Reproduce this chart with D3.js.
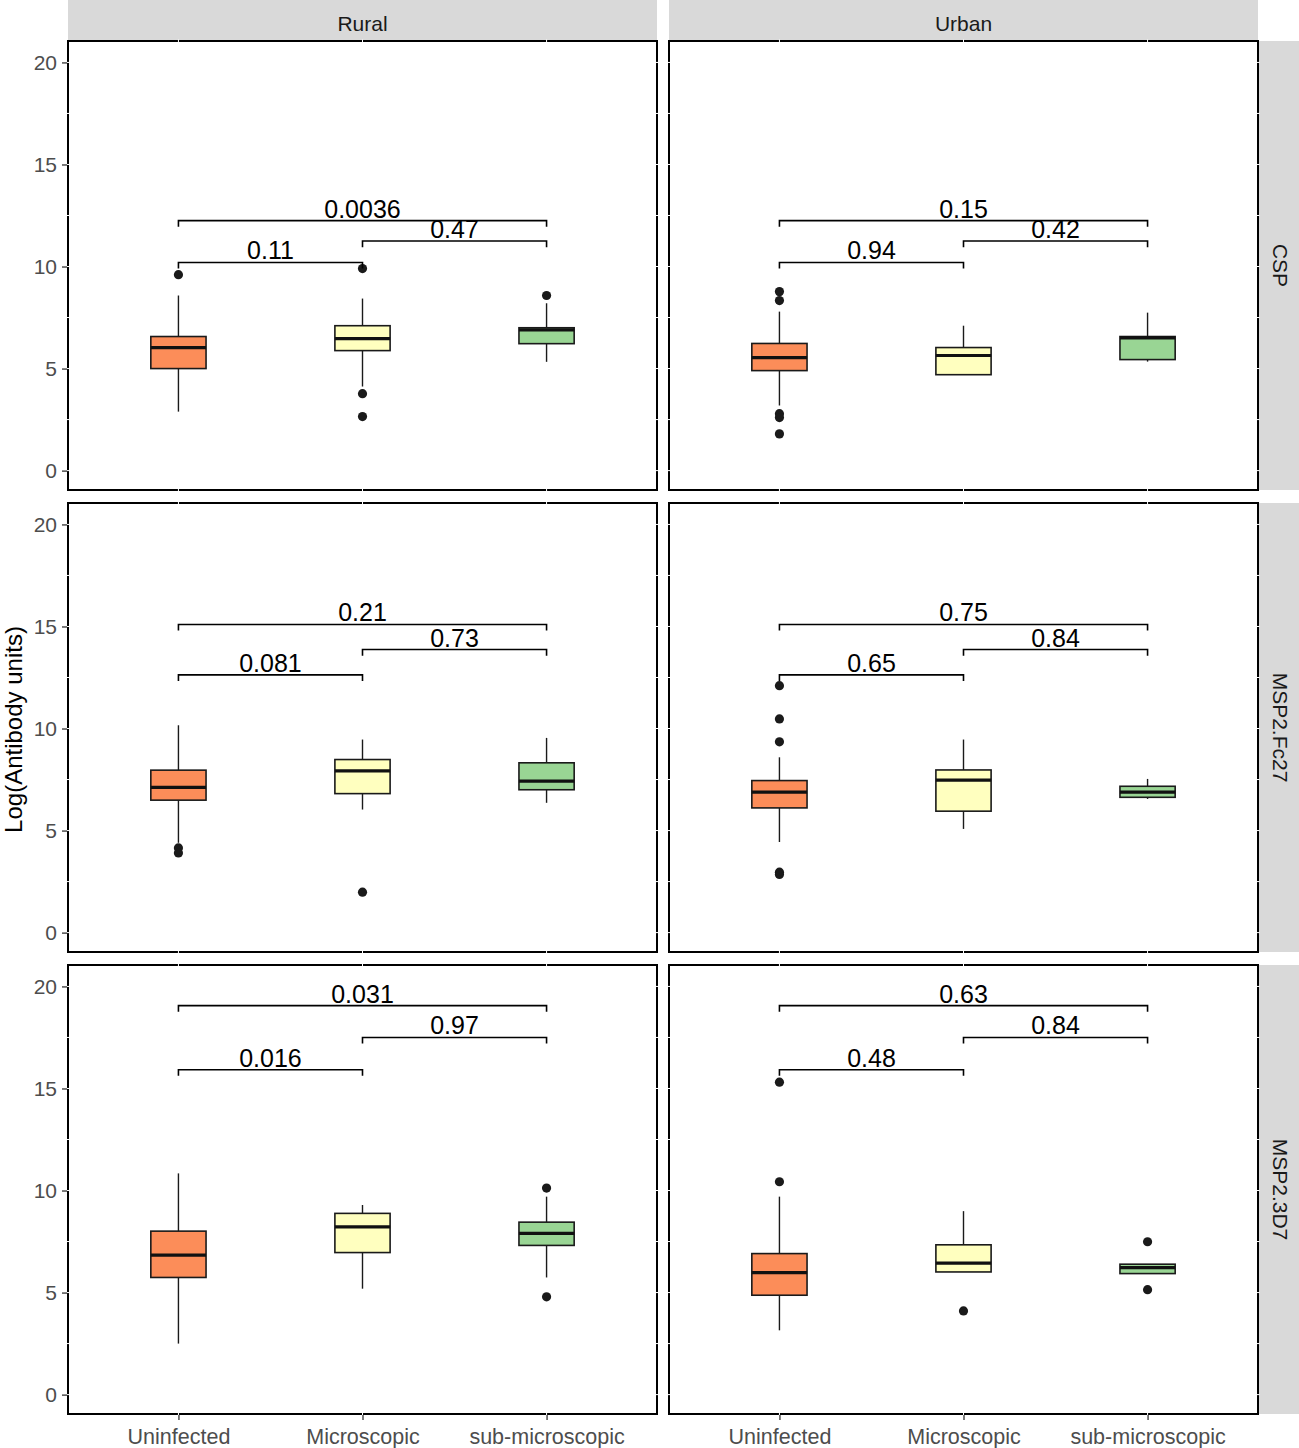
<!DOCTYPE html>
<html>
<head>
<meta charset="utf-8">
<script src="https://cdn.jsdelivr.net/npm/d3@7"></script>
<style>
  html, body { margin: 0; padding: 0; background: #fff; }
  svg { display: block; font-family: "Liberation Sans", Arial, Helvetica, sans-serif; }
</style>
</head>
<body>
<svg id="chart" width="1299" height="1448"></svg>
<script>
// ---------- data ----------
const rowLabels = ["CSP", "MSP2.Fc27", "MSP2.3D7"];
const colLabels = ["Rural", "Urban"];
const groups = ["Uninfected", "Microscopic", "sub-microscopic"];
const groupColors = ["#FC8D59", "#FFFFBF", "#99D594"];
const yTicks = [0, 5, 10, 15, 20];
const yMinor = [2.5, 7.5, 12.5, 17.5];
const comparisons = [[0, 1], [1, 2], [0, 2]];

// five-number summaries per group: [lower whisker, Q1, median, Q3, upper whisker]
const cspRural = [[2.89, 5.00, 6.03, 6.57, 8.58], [4.12, 5.88, 6.47, 7.10, 8.43], [5.33, 6.22, 6.90, 7.00, 8.20]];
const cspUrban = [[3.19, 4.90, 5.54, 6.23, 7.79], [4.70, 4.70, 5.64, 6.03, 7.10], [5.34, 5.44, 6.50, 6.57, 7.74]];
const fc27Rural = [[4.40, 6.49, 7.12, 7.96, 10.16], [6.03, 6.81, 7.92, 8.48, 9.46], [6.36, 7.00, 7.42, 8.32, 9.54]];
const fc27Urban = [[4.44, 6.11, 6.88, 7.45, 8.59], [5.08, 5.95, 7.47, 7.97, 9.46], [6.55, 6.63, 6.88, 7.17, 7.53]];
const d7Rural = [[2.50, 5.74, 6.83, 8.01, 10.84], [5.19, 6.96, 8.22, 8.88, 9.29], [5.74, 7.31, 7.90, 8.45, 9.70]];
const d7Urban = [[3.15, 4.87, 5.98, 6.91, 9.70], [6.01, 6.01, 6.44, 7.34, 8.99], [5.93, 5.93, 6.22, 6.39, 6.39]];

// outliers per group
const cspRuralOut = [[9.60], [9.90, 3.77, 2.65], [8.58]];
const cspUrbanOut = [[8.77, 8.33, 2.79, 2.60, 1.80], [], []];
const fc27RuralOut = [[4.15, 3.90], [1.98], []];
const fc27UrbanOut = [[12.10, 10.47, 9.35, 2.96, 2.85], [], []];
const d7RuralOut = [[], [], [10.12, 4.79]];
const d7UrbanOut = [[15.31, 10.43], [4.10], [7.49, 5.14]];

// p-value labels per comparison (same order as comparisons)
const cspRuralP = ["0.11", "0.47", "0.0036"];
const cspUrbanP = ["0.94", "0.42", "0.15"];
const fc27RuralP = ["0.081", "0.73", "0.21"];
const fc27UrbanP = ["0.65", "0.84", "0.75"];
const d7RuralP = ["0.016", "0.97", "0.031"];
const d7UrbanP = ["0.48", "0.84", "0.63"];

// bracket heights per row (data units)
const cspBracketY = [10.2, 11.25, 12.25];
const fc27BracketY = [12.63, 13.87, 15.1];
const d7BracketY = [15.92, 17.5, 19.06];
const bracketTip = 0.3;

// ---------- table built from the arrays ----------
const panels = [
  { row: 0, col: 0, stats: cspRural, out: cspRuralOut, p: cspRuralP, by: cspBracketY },
  { row: 0, col: 1, stats: cspUrban, out: cspUrbanOut, p: cspUrbanP, by: cspBracketY },
  { row: 1, col: 0, stats: fc27Rural, out: fc27RuralOut, p: fc27RuralP, by: fc27BracketY },
  { row: 1, col: 1, stats: fc27Urban, out: fc27UrbanOut, p: fc27UrbanP, by: fc27BracketY },
  { row: 2, col: 0, stats: d7Rural, out: d7RuralOut, p: d7RuralP, by: d7BracketY },
  { row: 2, col: 1, stats: d7Urban, out: d7UrbanOut, p: d7UrbanP, by: d7BracketY }
];

// ---------- layout ----------
const svg = d3.select("#chart");
svg.append("rect").attr("width", 1299).attr("height", 1448).attr("fill", "#fff");

const panelLeft0 = 68, panelW = 589, colGap = 12;
const panelTop0 = 41, panelH = 449, rowGap = 13;
const stripH = 40, stripW = 40;
const stripFill = "#D9D9D9";
const textGrey = "#4D4D4D";

const colX = c => panelLeft0 + c * (panelW + colGap);
const rowY = r => panelTop0 + r * (panelH + rowGap);

const yDomain = [-0.95, 21.05];

// column strips
colLabels.forEach((lab, c) => {
  svg.append("rect").attr("x", colX(c)).attr("y", 0).attr("width", panelW).attr("height", stripH).attr("fill", stripFill);
  svg.append("text").attr("x", colX(c) + panelW / 2).attr("y", 25)
    .attr("text-anchor", "middle").attr("dominant-baseline", "middle")
    .attr("font-size", 21).attr("fill", "#1a1a1a").text(lab);
});

// row strips
const stripX = colX(1) + panelW + 1;
rowLabels.forEach((lab, r) => {
  svg.append("rect").attr("x", stripX).attr("y", rowY(r)).attr("width", stripW).attr("height", panelH).attr("fill", stripFill);
  const cx = stripX + stripW / 2, cy = rowY(r) + panelH / 2;
  svg.append("text").attr("transform", `translate(${cx},${cy}) rotate(90)`)
    .attr("text-anchor", "middle").attr("dominant-baseline", "middle")
    .attr("font-size", 21).attr("fill", "#1a1a1a").text(lab);
});

// y-axis title
svg.append("text").attr("transform", `translate(16,${rowY(1) + panelH / 2 + 2}) rotate(-90)`)
  .attr("text-anchor", "middle").attr("dominant-baseline", "middle")
  .attr("font-size", 24).attr("fill", "#000").text("Log(Antibody units)");

panels.forEach(pn => {
  const left = colX(pn.col), top = rowY(pn.row);
  const x = d3.scalePoint().domain(groups).range([left, left + panelW]).padding(0.6);
  const y = d3.scaleLinear().domain(yDomain).range([top + panelH, top]);
  const boxW = x.step() * 0.3;
  const g = svg.append("g");

  // panel + border
  g.append("rect").attr("x", left).attr("y", top).attr("width", panelW).attr("height", panelH)
    .attr("fill", "#fff").attr("stroke", "#000").attr("stroke-width", 2);

  // white grid lines (only visible where they cross the border)
  g.selectAll(".gy").data(yTicks.concat(yMinor)).join("line")
    .attr("x1", left - 1.5).attr("x2", left + panelW + 1.5)
    .attr("y1", d => y(d)).attr("y2", d => y(d))
    .attr("stroke", "#fff").attr("stroke-width", 1);
  g.selectAll(".gx").data(groups).join("line")
    .attr("y1", top - 1.5).attr("y2", top + panelH + 1.5)
    .attr("x1", d => x(d)).attr("x2", d => x(d))
    .attr("stroke", "#fff").attr("stroke-width", 1);

  // y axis on left column
  if (pn.col === 0) {
    const ax = g.append("g").attr("transform", `translate(${left - 1},0)`)
      .call(d3.axisLeft(y).tickValues(yTicks).tickSize(5).tickPadding(5).tickFormat(d3.format("d")));
    ax.select(".domain").remove();
    ax.selectAll(".tick line").attr("stroke", "#333").attr("stroke-width", 1.3);
    ax.selectAll(".tick text").attr("font-size", 21).attr("fill", textGrey)
      .attr("font-family", "'Liberation Sans', Arial, sans-serif");
  }
  // x axis on bottom row
  if (pn.row === 2) {
    const ax = g.append("g").attr("transform", `translate(0,${top + panelH + 1})`)
      .call(d3.axisBottom(x).tickSize(5).tickPadding(9));
    ax.select(".domain").remove();
    ax.selectAll(".tick line").attr("stroke", "#333").attr("stroke-width", 1.3);
    ax.selectAll(".tick text").attr("font-size", 21.5).attr("fill", textGrey)
      .attr("font-family", "'Liberation Sans', Arial, sans-serif");
  }

  // boxes
  pn.stats.forEach((s, i) => {
    const cx = x(groups[i]);
    const [lo, q1, med, q3, hi] = s;
    const bg = g.append("g");
    bg.append("line").attr("x1", cx).attr("x2", cx).attr("y1", y(hi)).attr("y2", y(q3))
      .attr("stroke", "#1a1a1a").attr("stroke-width", 1.4);
    bg.append("line").attr("x1", cx).attr("x2", cx).attr("y1", y(q1)).attr("y2", y(lo))
      .attr("stroke", "#1a1a1a").attr("stroke-width", 1.4);
    bg.append("rect").attr("x", cx - boxW / 2).attr("width", boxW)
      .attr("y", y(q3)).attr("height", Math.max(0, y(q1) - y(q3)))
      .attr("fill", groupColors[i]).attr("stroke", "#1a1a1a").attr("stroke-width", 1.6);
    bg.append("line").attr("x1", cx - boxW / 2).attr("x2", cx + boxW / 2).attr("y1", y(med)).attr("y2", y(med))
      .attr("stroke", "#111").attr("stroke-width", 3.2);
    bg.selectAll("circle").data(pn.out[i]).join("circle")
      .attr("cx", cx).attr("cy", d => y(d)).attr("r", 4.6).attr("fill", "#1a1a1a");
  });

  // significance brackets
  comparisons.forEach((cmp, k) => {
    const x1 = x(groups[cmp[0]]), x2 = x(groups[cmp[1]]);
    const h = pn.by[k];
    const path = d3.path();
    path.moveTo(x1, y(h - bracketTip));
    path.lineTo(x1, y(h));
    path.lineTo(x2, y(h));
    path.lineTo(x2, y(h - bracketTip));
    g.append("path").attr("d", path.toString()).attr("fill", "none")
      .attr("stroke", "#000").attr("stroke-width", 1.6);
    g.append("text").attr("x", (x1 + x2) / 2).attr("y", y(h) - 3)
      .attr("text-anchor", "middle").attr("font-size", 25).attr("fill", "#000").text(pn.p[k]);
  });
});
</script>
</body>
</html>
